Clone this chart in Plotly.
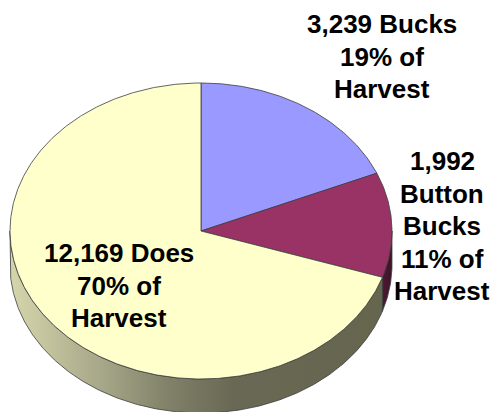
import numpy as np
import plotly.graph_objects as go

categories = ["Bucks", "Button Bucks", "Does"]
harvest = [3239, 1992, 12169]
top_colors = ["#9999FF", "#993366", "#FFFFCC"]
label_lines = [
    ["3,239 Bucks", "19% of", "Harvest"],
    ["1,992", "Button", "Bucks", "11% of", "Harvest"],
    ["12,169 Does", "70% of", "Harvest"],
]
label_x = [382, 442, 119]
label_first_y = [24, 161, 253]
LINE_STEP = 32.6

CX, CY, RX, RY, DEPTH = 201, 231, 191, 148, 34
OUTLINE = "#3c3c3c"
wall_gradients = {
    1: [[0, "#4c1a33"], [1, "#3e1229"]],
    2: [[0, "#d6d6ac"], [0.24, "#a8a88a"], [0.42, "#82826a"], [0.6, "#686854"], [1, "#66664f"]],
}


def arc(a0, a1, dy=0.0):
    t = np.radians(np.linspace(a0, a1, max(int(abs(a1 - a0)) * 2, 2)))
    return CX + RX * np.sin(t), CY + dy - RY * np.cos(t)


fractions = np.array(harvest, dtype=float) / sum(harvest)
edges = np.concatenate([[0], np.cumsum(fractions) * 360])

fig = go.Figure()

# side walls: only the part of each slice on the front half of the ellipse
for i in range(3):
    a0, a1 = max(edges[i], 90), min(edges[i + 1], 270)
    if a1 <= a0:
        continue
    x0, y0 = arc(a0, a1)
    x1, y1 = arc(a1, a0, DEPTH)
    xs, ys = np.r_[x0, x1, x0[0]], np.r_[y0, y1, y0[0]]
    fig.add_trace(go.Scatter(
        x=xs, y=ys, mode="lines", fill="toself",
        line=dict(color=OUTLINE, width=0.8),
        fillgradient=dict(type="horizontal", colorscale=wall_gradients[i]),
        hoverinfo="skip", showlegend=False,
    ))

# top faces
for i, name in enumerate(categories):
    x0, y0 = arc(edges[i], edges[i + 1])
    xs, ys = np.r_[CX, x0, CX], np.r_[CY, y0, CY]
    fig.add_trace(go.Scatter(
        x=xs, y=ys, mode="lines", fill="toself", fillcolor=top_colors[i],
        line=dict(color=OUTLINE, width=0.8), name=name, showlegend=False,
    ))

for lines, x, y0 in zip(label_lines, label_x, label_first_y):
    for j, text in enumerate(lines):
        fig.add_annotation(
            x=x, y=y0 + j * LINE_STEP, text=text, showarrow=False,
            xanchor="center", yanchor="middle", align="center",
            font=dict(family="Liberation Sans", size=26, color="#000000", weight="bold"),
        )

fig.update_layout(
    width=493, height=412, margin=dict(l=0, r=0, t=0, b=0),
    paper_bgcolor="#ffffff", plot_bgcolor="#ffffff",
    xaxis=dict(range=[0, 493], visible=False, fixedrange=True),
    yaxis=dict(range=[412, 0], visible=False, fixedrange=True),
    showlegend=False,
)
fig.write_html("out.html", config={"displayModeBar": False},
               post_script="document.body.style.margin='0';document.body.style.overflow='hidden';")
